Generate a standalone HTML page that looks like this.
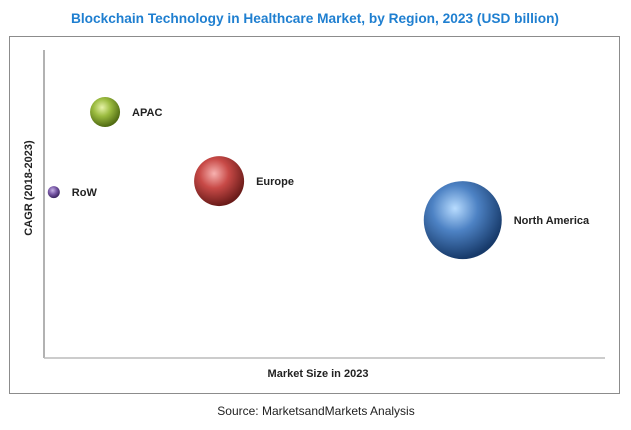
<!DOCTYPE html>
<html><head><meta charset="utf-8"><style>
body{margin:0;background:#fff;width:631px;height:425px;overflow:hidden;font-family:"Liberation Sans",sans-serif}
</style></head><body>
<svg width="631" height="425">
<defs>
<radialGradient id="gAPAC" cx="0.4" cy="0.35" r="0.65"><stop offset="0" stop-color="#e6f2a8"/><stop offset="0.45" stop-color="#9bbb3f"/><stop offset="1" stop-color="#4f6a12"/></radialGradient>
<radialGradient id="gEurope" cx="0.4" cy="0.35" r="0.65"><stop offset="0" stop-color="#f7b2b0"/><stop offset="0.45" stop-color="#c84a47"/><stop offset="1" stop-color="#6a1b19"/></radialGradient>
<radialGradient id="gRoW" cx="0.4" cy="0.35" r="0.65"><stop offset="0" stop-color="#c8b4e6"/><stop offset="0.5" stop-color="#7a5aa8"/><stop offset="1" stop-color="#3b2460"/></radialGradient>
<radialGradient id="gNorthAmerica" cx="0.4" cy="0.35" r="0.65"><stop offset="0" stop-color="#b8dcff"/><stop offset="0.45" stop-color="#4d82c4"/><stop offset="1" stop-color="#173a6a"/></radialGradient>
</defs>
<text x="315" y="23" text-anchor="middle" font-size="14" font-weight="bold" fill="#1f7fd0" textLength="488" lengthAdjust="spacingAndGlyphs">Blockchain Technology in Healthcare Market, by Region, 2023 (USD billion)</text>
<rect x="9.5" y="36.5" width="610" height="357" fill="none" stroke="#8c8c8c"/>
<line x1="44" y1="50" x2="44" y2="358" stroke="#999" stroke-width="1.5"/>
<line x1="44" y1="358" x2="605" y2="358" stroke="#bbb" stroke-width="1.5"/>
<text x="318" y="377" text-anchor="middle" font-size="11" font-weight="bold" fill="#222">Market Size in 2023</text>
<text transform="translate(32,188) rotate(-90)" text-anchor="middle" font-size="11" font-weight="bold" fill="#222">CAGR (2018-2023)</text>
<text x="316" y="415" text-anchor="middle" font-size="12" fill="#222">Source: MarketsandMarkets Analysis</text>
<g id="bubbles"></g>
</svg>
<script>
var regions=["APAC","Europe","RoW","North America"];
var marketSize=[10.6,30.4,1.7,72.7];
var cagr=[79.8,57.3,53.7,44.6];
var bubbleSize=[2.25,6.25,0.36,15.2];
function xs(v){return 44+v/100*576;}
function ys(v){return 357-v/100*307;}
function rs(v){return 10*Math.sqrt(v);}
var g=document.getElementById('bubbles');
var ns='http://www.w3.org/2000/svg';
regions.forEach(function(r,i){
  var cx=xs(marketSize[i]),cy=ys(cagr[i]),rad=rs(bubbleSize[i]);
  var c=document.createElementNS(ns,'circle');
  c.setAttribute('cx',cx);c.setAttribute('cy',cy);c.setAttribute('r',rad);
  c.setAttribute('fill','url(#g'+r.replace(' ','')+')');
  
  
  g.appendChild(c);
  var t=document.createElementNS(ns,'text');
  t.setAttribute('x',cx+rad+12);t.setAttribute('y',cy+4);
  t.setAttribute('font-size','11');t.setAttribute('font-weight','bold');t.setAttribute('fill','#222');
  t.textContent=r;
  
  
  g.appendChild(t);
});
</script>
</body></html>
